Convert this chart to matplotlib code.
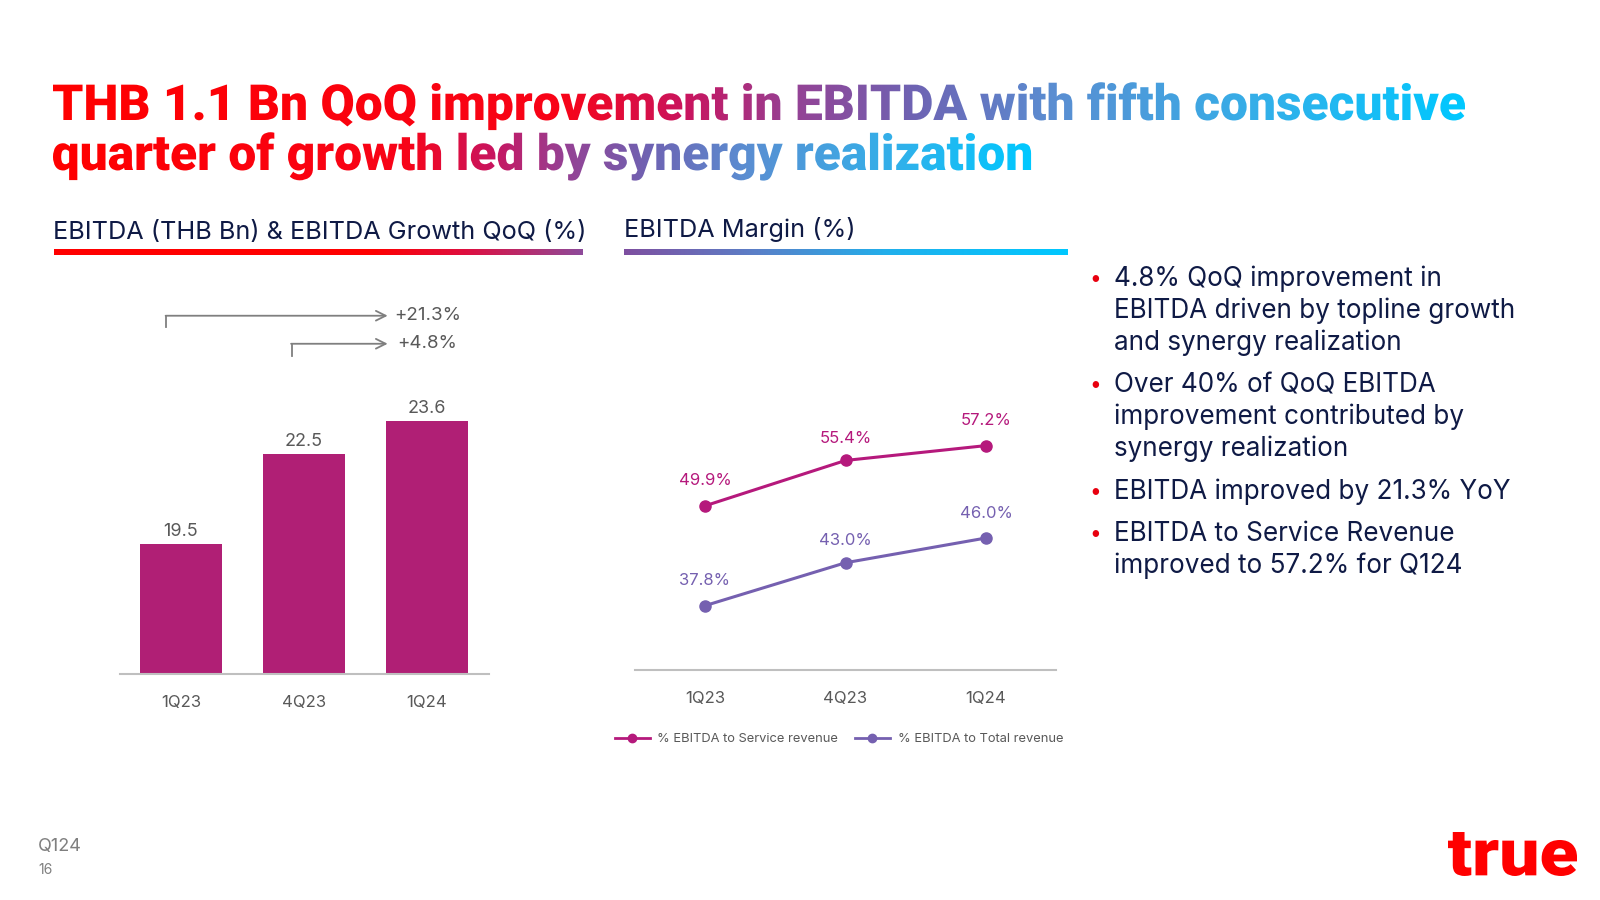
import numpy as np
import matplotlib
matplotlib.use('Agg')
import matplotlib.pyplot as plt
from matplotlib.colors import LinearSegmentedColormap
from matplotlib.textpath import TextPath
from matplotlib.patches import PathPatch
from matplotlib.font_manager import FontProperties
from matplotlib.transforms import Affine2D
from matplotlib.lines import Line2D

# ---- data ----
quarters = ['1Q23', '4Q23', '1Q24']
ebitda = [19.5, 22.5, 23.6]
growth_labels = ['+21.3%', '+4.8%']
margin_service = [49.9, 55.4, 57.2]
margin_total = [37.8, 43.0, 46.0]
series_names = ['% EBITDA to Service revenue', '% EBITDA to Total revenue']

title_lines = ['THB 1.1 Bn QoQ improvement in EBITDA with fifth consecutive',
               'quarter of growth led by synergy realization']
left_heading = 'EBITDA (THB Bn) & EBITDA Growth QoQ (%)'
right_heading = 'EBITDA Margin (%)'
bullets = [
    ['4.8% QoQ improvement in', 'EBITDA driven by topline growth', 'and synergy realization'],
    ['Over 40% of QoQ EBITDA', 'improvement contributed by', 'synergy realization'],
    ['EBITDA improved by 21.3% YoY'],
    ['EBITDA to Service Revenue', 'improved to 57.2% for Q124'],
]

# ---- colours ----
NAVY = '#0F1A45'
GREY = '#595959'
BAR = '#B01F75'
MAGENTA = '#B5197C'
PURPLE = '#7560B0'

title_cmap = LinearSegmentedColormap.from_list('title', [
    (0.0, '#FF0000'), (0.36, '#F80418'), (0.45, '#C81560'), (0.52, '#974093'),
    (0.61, '#6E63B3'), (0.71, '#5A8ED2'), (0.85, '#36AEE8'), (1.0, '#00C8FF')])
left_bar_cmap = LinearSegmentedColormap.from_list('lb', [
    (0.0, '#FF0000'), (0.6, '#FF0000'), (0.78, '#DE0F40'), (1.0, '#8E4A9A')])
right_bar_cmap = LinearSegmentedColormap.from_list('rb', [
    (0.0, '#7E4FA0'), (0.3, '#5A80C8'), (0.6, '#20B0EC'), (1.0, '#00C8FF')])

plt.rcParams['font.family'] = ['Inter', 'DejaVu Sans']

fig = plt.figure(figsize=(16, 9), dpi=100)

# page axes in pixel coordinates (y down)
page = fig.add_axes([0, 0, 1, 1])
page.axis('off')

grad = np.linspace(0, 1, 512).reshape(1, -1)

# gradient title made from text paths
title_fp = FontProperties(family='Roboto', weight='heavy')
probe = TextPath((0, 0), title_lines[0], size=100, prop=title_fp)
title_size = 100 * 1412 / probe.get_extents().width
for line, base in zip(title_lines, [120, 170]):
    tp = TextPath((0, 0), line, size=title_size, prop=title_fp)
    ext = tp.get_extents()
    x0 = 53 - ext.x0
    tr = Affine2D().scale(1, -1).translate(x0, base) + page.transData
    patch = PathPatch(tp, transform=tr, facecolor='none', edgecolor='none')
    page.add_patch(patch)
    im = page.imshow(grad, cmap=title_cmap, aspect='auto', interpolation='bilinear',
                     extent=[x0 + ext.x0, x0 + ext.x1, base + title_size * 0.35, base - title_size])
    im.set_clip_path(patch)

# section headings with gradient underline
page.text(53, 232, left_heading, fontsize=18.2, color=NAVY, va='center', ha='left')
page.text(624, 230, right_heading, fontsize=18.2, color=NAVY, va='center', ha='left')
page.imshow(grad, cmap=left_bar_cmap, aspect='auto', extent=[54, 583, 255, 249])
page.imshow(grad, cmap=right_bar_cmap, aspect='auto', extent=[624, 1068, 255, 249])

# bullets
for lines, y0 in zip(bullets, [279, 385, 492, 534]):
    page.text(1095, y0, '•', fontsize=15, color='#E8000F', va='center', ha='center')
    for k, line in enumerate(lines):
        page.text(1114, y0 + k * 31.7, line, fontsize=18.8, color=NAVY, va='center', ha='left')

# footer
page.text(38, 846, 'Q124', fontsize=13, color='#7F7F7F', va='center')
page.text(38, 870, '16', fontsize=10, color='#7F7F7F', va='center')

# logo, stretched to its box
logo = TextPath((0, 0), 'true', size=100, prop=FontProperties(family='Roboto', weight='heavy'))
lext = logo.get_extents()
ltr = (Affine2D().translate(-lext.x0, -lext.y0)
       .scale(129 / lext.width, -44 / lext.height).translate(1448, 876) + page.transData)
page.add_patch(PathPatch(logo, transform=ltr, facecolor='#FF0000', edgecolor='none'))

page.set_xlim(0, 1600)
page.set_ylim(900, 0)

# ---- bar chart ----
ax1 = fig.add_axes([119.5 / 1600, 226 / 900, 369 / 1600, 384 / 900])
ax1.patch.set_alpha(0)
x = np.arange(len(quarters))
ax1.bar(x, ebitda, width=0.667, color=BAR, zorder=2)
ax1.set_xlim(-0.5, 2.5)
ax1.set_ylim(15.17, 15.17 + 384 / 30)
for s in ['top', 'right', 'left']:
    ax1.spines[s].set_visible(False)
ax1.spines['bottom'].set_color('#BFBFBF')
ax1.spines['bottom'].set_linewidth(1.5)
ax1.set_yticks([])
ax1.set_xticks(x)
ax1.set_xticklabels(quarters)
ax1.tick_params(axis='x', length=0, pad=15, labelsize=12, labelcolor=GREY)
for i, v in enumerate(ebitda):
    ax1.annotate(f'{v:.1f}', (i, v), xytext=(0, 9), textcoords='offset points',
                 ha='center', va='center', fontsize=13, color=GREY)

# growth arrows (start bar -> last bar)
xt = ax1.get_xaxis_transform()
arrow_specs = [(0 - 0.12, 0.933, 0.903, 1.73), (1 - 0.10, 0.86, 0.829, 1.76)]
for (xs, yh, yl, xl), lab in zip(arrow_specs, growth_labels):
    ax1.plot([xs, xs], [yl, yh], color='#7F7F7F', lw=1.3, transform=xt, clip_on=False)
    ax1.annotate('', xy=(1.68, yh), xytext=(xs - 0.005, yh), xycoords=xt, textcoords=xt,
                 arrowprops=dict(arrowstyle='->,head_length=0.7,head_width=0.35',
                                 color='#7F7F7F', lw=1.3, shrinkA=0, shrinkB=0))
    ax1.text(xl, yh, lab, transform=xt, fontsize=13.5, color=GREY, va='center', ha='left')

# ---- margin line chart ----
ax2 = fig.add_axes([634.75 / 1600, 230 / 900, 421.5 / 1600, 330 / 900])
ax2.patch.set_alpha(0)
ax2.plot(x, margin_service, color=MAGENTA, lw=2.2, marker='o', ms=8, label=series_names[0])
ax2.plot(x, margin_total, color=PURPLE, lw=2.2, marker='o', ms=8, label=series_names[1])
for vals, col in [(margin_service, MAGENTA), (margin_total, PURPLE)]:
    for i, v in enumerate(vals):
        off = 16 if i == 1 else 18
        ax2.annotate(f'{v:.1f}%', (i, v), xytext=(0, off), textcoords='offset points',
                     ha='center', va='center', fontsize=12, color=col)
ax2.set_xlim(-0.5, 2.5)
ax2.set_ylim(30, 70)
for s in ['top', 'right', 'left']:
    ax2.spines[s].set_visible(False)
ax2.spines['bottom'].set_color('#BFBFBF')
ax2.spines['bottom'].set_linewidth(1.5)
ax2.set_yticks([])
ax2.set_xticks(x)
ax2.set_xticklabels(quarters)
ax2.tick_params(axis='x', length=0, pad=15, labelsize=12, labelcolor=GREY)

handles = [Line2D([], [], color=MAGENTA, lw=2, marker='o', ms=6),
           Line2D([], [], color=PURPLE, lw=2, marker='o', ms=6)]
fig.legend(handles, series_names, loc='center left', bbox_to_anchor=(603 / 1600, 161 / 900),
           ncol=2, frameon=False, fontsize=9.3, labelcolor=GREY, handlelength=2.7,
           handletextpad=0.6, columnspacing=1.3)

fig.savefig('out.png', dpi=100, facecolor='white')
